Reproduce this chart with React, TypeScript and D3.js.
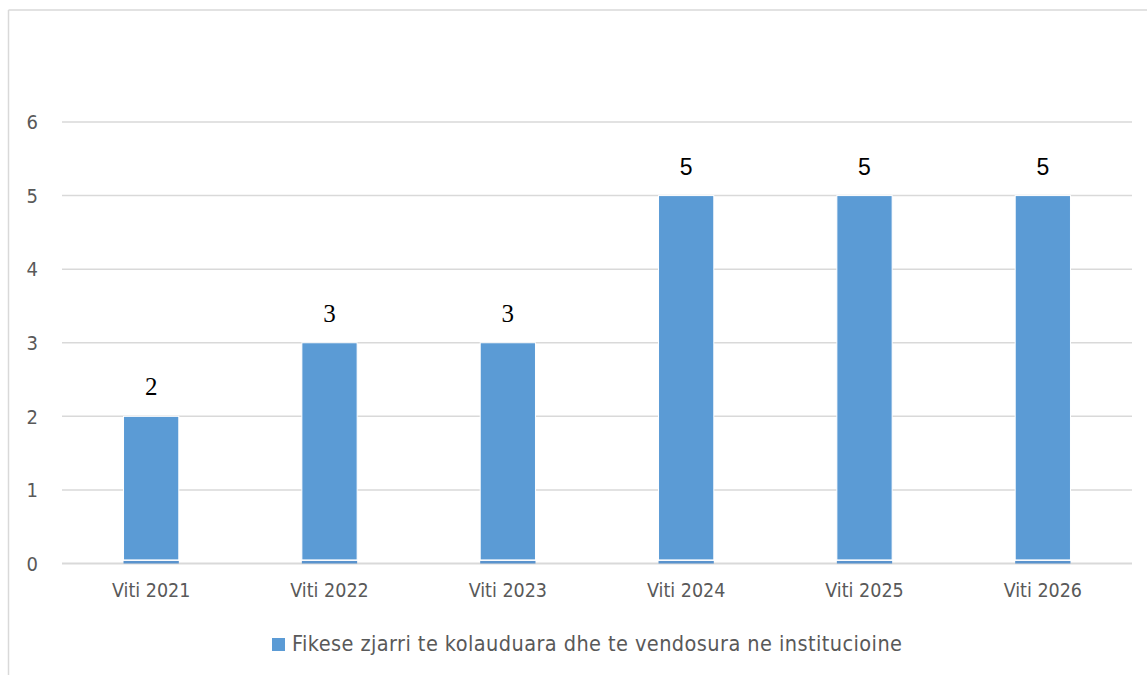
import React from "react";
import * as d3 from "d3";

const categories = ["Viti 2021", "Viti 2022", "Viti 2023", "Viti 2024", "Viti 2025", "Viti 2026"];
const values = [2, 3, 3, 5, 5, 5];
const baseValues = [0.035, 0.035, 0.035, 0.035, 0.035, 0.035];
const labelSerif = [true, true, true, false, false, false];
const yTicks = [0, 1, 2, 3, 4, 5, 6];
const legendLabel = "Fikese zjarri te kolauduara dhe te vendosura ne institucioine";

const W = 1147;
const H = 675;
const left = 62;
const right = 1132;
const top = 122;
const bottom = 563.5;
const blue = "#5B9BD5";
const grid = "#D9D9D9";
const txt = "#595959";
const font = "'DejaVu Sans Condensed', 'DejaVu Sans', sans-serif";

export default function App() {
  const x = d3.scaleBand<string>().domain(categories).range([left, right]).paddingInner(0.69).paddingOuter(0.345);
  const y = d3.scaleLinear().domain([0, 6]).range([bottom, top]);
  const bw = x.bandwidth();

  return (
    <div style={{ position: "absolute", left: 0, top: 0 }}>
      <svg width={W} height={H} style={{ display: "block", background: "#fff" }}>
        {/* frame */}
        <line x1={8.5} y1={10} x2={W} y2={10} stroke={grid} strokeWidth={1.5} />
        <line x1={8.5} y1={10} x2={8.5} y2={H} stroke={grid} strokeWidth={1.5} />
        {/* gridlines */}
        {yTicks.map((t) => (
          <g key={t}>
            <line x1={left} x2={right} y1={y(t)} y2={y(t)} stroke={grid} strokeWidth={t === 0 ? 2 : 1.5} />
            <text x={38} y={y(t)} dy="0.36em" textAnchor="end" fontFamily={font} fontSize={20} fill={txt}>
              {t}
            </text>
          </g>
        ))}
        {/* bars */}
        {categories.map((c, i) => {
          const x0 = x(c)!;
          return (
            <g key={c}>
              <rect x={x0} y={y(baseValues[i])} width={bw} height={y(0) - y(baseValues[i])} fill="#5A93CD" />
              <rect
                x={x0}
                y={y(values[i])}
                width={bw}
                height={y(baseValues[i]) - y(values[i]) - 1}
                fill={blue}
                stroke="#fff"
                strokeWidth={1}
              />
              <text
                x={x0 + bw / 2}
                y={y(values[i]) - 21}
                textAnchor="middle"
                fontFamily={labelSerif[i] ? "'Liberation Serif', 'DejaVu Serif', serif" : "'Liberation Sans', 'DejaVu Sans', sans-serif"}
                fontSize={labelSerif[i] ? 25 : 23}
                fill="#000"
              >
                {values[i]}
              </text>
              <text x={x0 + bw / 2} y={597} textAnchor="middle" fontFamily={font} fontSize={19.5} fill={txt}>
                {c}
              </text>
            </g>
          );
        })}
        {/* legend */}
        <rect x={272} y={638} width={13} height={13} fill={blue} />
        <text
          x={292}
          y={651}
          fontFamily={font}
          fontSize={21.5}
          fill={txt}
          textLength={610}
          lengthAdjust="spacing"
        >
          {legendLabel}
        </text>
      </svg>
    </div>
  );
}
